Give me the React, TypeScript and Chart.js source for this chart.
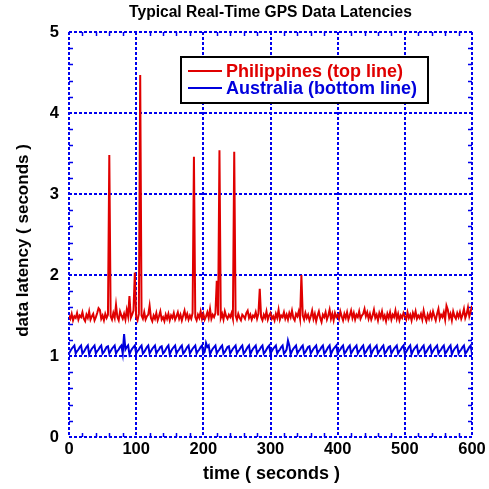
import { useEffect, useRef } from "react";
import { Chart, registerables } from "chart.js";

Chart.register(...registerables);

const FONT = '"Liberation Sans", Arial, Helvetica, sans-serif';

const TITLE = "Typical Real-Time GPS Data Latencies";
const X_TITLE = "time ( seconds )";
const Y_TITLE = "data latency ( seconds )";
const SERIES_NAMES = ["Philippines (top line)", "Australia (bottom line)"];

// sample interval (seconds)
const TIME_STEP = 2;

// Philippines latency, one value every 2 s from t = 0 to 600
const philippines = [
  1.50, 1.46, 1.52, 1.44, 1.49, 1.47, 1.53, 1.45, 1.50, 1.48,
  1.54, 1.46, 1.43, 1.51, 1.47, 1.55, 1.45, 1.49, 1.52, 1.44,
  1.48, 1.53, 1.59, 1.57, 1.46, 1.50, 1.44, 1.52, 1.47, 1.51,
  3.48, 1.49, 1.45, 1.53, 1.47, 1.63, 1.48, 1.44, 1.55, 1.50,
  1.46, 1.52, 1.45, 1.57, 1.49, 1.74, 1.47, 1.51, 1.56, 2.03,
  1.48, 1.44, 1.52, 4.47, 1.50, 1.46, 1.54, 1.45, 1.49, 1.51,
  1.62, 1.47, 1.43, 1.50, 1.46, 1.53, 1.44, 1.49, 1.55, 1.45,
  1.48, 1.43, 1.51, 1.46, 1.52, 1.44, 1.50, 1.47, 1.53, 1.45,
  1.49, 1.54, 1.46, 1.51, 1.44, 1.50, 1.56, 1.47, 1.52, 1.45,
  1.50, 1.46, 1.53, 3.46, 1.48, 1.44, 1.51, 1.47, 1.55, 1.46,
  1.52, 1.45, 1.49, 1.54, 1.47, 1.58, 1.46, 1.51, 1.48, 1.53,
  1.93, 1.50, 3.54, 1.47, 1.52, 1.45, 1.55, 1.49, 1.46, 1.51,
  1.48, 1.53, 1.46, 3.52, 1.50, 1.45, 1.52, 1.47, 1.44, 1.51,
  1.49, 1.46, 1.53, 1.56, 1.47, 1.51, 1.45, 1.50, 1.48, 1.54,
  1.46, 1.52, 1.83, 1.48, 1.44, 1.51, 1.47, 1.55, 1.45, 1.50,
  1.53, 1.46, 1.49, 1.44, 1.52, 1.47, 1.57, 1.45, 1.50, 1.48,
  1.54, 1.46, 1.51, 1.45, 1.53, 1.48, 1.56, 1.47, 1.44, 1.52,
  1.49, 1.55, 1.46, 2.00, 1.50, 1.45, 1.53, 1.47, 1.51, 1.44,
  1.49, 1.56, 1.46, 1.52, 1.43, 1.50, 1.55, 1.47, 1.42, 1.51,
  1.48, 1.54, 1.45, 1.50, 1.57, 1.46, 1.52, 1.44, 1.53, 1.48,
  1.51, 1.46, 1.55, 1.49, 1.44, 1.52, 1.47, 1.54, 1.45, 1.50,
  1.56, 1.47, 1.53, 1.45, 1.51, 1.48, 1.55, 1.46, 1.50, 1.52,
  1.58, 1.49, 1.54, 1.46, 1.52, 1.45, 1.50, 1.57, 1.47, 1.51,
  1.44, 1.53, 1.48, 1.55, 1.46, 1.50, 1.43, 1.52, 1.47, 1.54,
  1.45, 1.51, 1.48, 1.56, 1.46, 1.52, 1.44, 1.50, 1.47, 1.53,
  1.49, 1.45, 1.54, 1.47, 1.51, 1.44, 1.53, 1.48, 1.55, 1.46,
  1.50, 1.47, 1.52, 1.45, 1.56, 1.48, 1.43, 1.51, 1.46, 1.53,
  1.47, 1.55, 1.49, 1.44, 1.52, 1.58, 1.46, 1.51, 1.48, 1.54,
  1.45, 1.62, 1.57, 1.47, 1.52, 1.44, 1.55, 1.49, 1.46, 1.53,
  1.48, 1.54, 1.46, 1.51, 1.58, 1.47, 1.52, 1.60, 1.49, 1.55,
  1.62,
];

// Australia latency, one value every 2 s from t = 0 to 600
const australia = [
  1.03, 1.06, 1.09, 1.11, 1.13, 1.03, 1.06, 1.08, 1.11, 1.13,
  1.03, 1.05, 1.08, 1.11, 1.13, 1.02, 1.06, 1.09, 1.11, 1.13,
  1.03, 1.06, 1.08, 1.11, 1.13, 1.03, 1.05, 1.08, 1.11, 1.12,
  1.03, 1.06, 1.09, 1.11, 1.13, 1.03, 1.06, 1.08, 1.11, 1.13,
  1.03, 1.27, 1.08, 1.11, 1.13, 1.02, 1.06, 1.09, 1.11, 1.13,
  1.03, 1.06, 1.08, 1.11, 1.13, 1.03, 1.05, 1.08, 1.11, 1.13,
  1.03, 1.06, 1.09, 1.11, 1.13, 1.03, 1.06, 1.08, 1.11, 1.12,
  1.03, 1.05, 1.08, 1.11, 1.13, 1.02, 1.06, 1.09, 1.11, 1.13,
  1.03, 1.06, 1.08, 1.11, 1.13, 1.03, 1.05, 1.08, 1.11, 1.13,
  1.03, 1.06, 1.09, 1.11, 1.13, 1.03, 1.06, 1.08, 1.11, 1.13,
  1.03, 1.05, 1.16, 1.11, 1.13, 1.02, 1.06, 1.09, 1.11, 1.13,
  1.03, 1.06, 1.08, 1.11, 1.13, 1.03, 1.05, 1.08, 1.11, 1.12,
  1.03, 1.06, 1.09, 1.11, 1.13, 1.03, 1.06, 1.08, 1.11, 1.13,
  1.03, 1.05, 1.08, 1.11, 1.13, 1.02, 1.06, 1.09, 1.11, 1.13,
  1.03, 1.06, 1.08, 1.11, 1.13, 1.03, 1.05, 1.08, 1.11, 1.13,
  1.03, 1.06, 1.09, 1.11, 1.13, 1.03, 1.06, 1.08, 1.11, 1.13,
  1.03, 1.05, 1.08, 1.19, 1.13, 1.02, 1.06, 1.09, 1.11, 1.13,
  1.03, 1.06, 1.08, 1.11, 1.13, 1.03, 1.05, 1.08, 1.11, 1.12,
  1.03, 1.06, 1.09, 1.11, 1.13, 1.03, 1.06, 1.08, 1.11, 1.13,
  1.03, 1.05, 1.08, 1.11, 1.13, 1.02, 1.06, 1.09, 1.11, 1.13,
  1.03, 1.06, 1.08, 1.11, 1.13, 1.03, 1.05, 1.08, 1.11, 1.13,
  1.03, 1.06, 1.09, 1.11, 1.13, 1.03, 1.06, 1.08, 1.11, 1.13,
  1.03, 1.05, 1.08, 1.11, 1.13, 1.02, 1.06, 1.09, 1.11, 1.13,
  1.03, 1.06, 1.08, 1.11, 1.13, 1.03, 1.05, 1.08, 1.11, 1.12,
  1.03, 1.06, 1.09, 1.11, 1.13, 1.03, 1.06, 1.08, 1.11, 1.13,
  1.03, 1.05, 1.08, 1.11, 1.13, 1.02, 1.06, 1.09, 1.11, 1.13,
  1.03, 1.06, 1.08, 1.11, 1.13, 1.03, 1.05, 1.08, 1.11, 1.13,
  1.03, 1.06, 1.09, 1.11, 1.13, 1.03, 1.06, 1.08, 1.11, 1.13,
  1.03, 1.05, 1.08, 1.11, 1.13, 1.02, 1.06, 1.09, 1.11, 1.13,
  1.03, 1.06, 1.08, 1.11, 1.13, 1.03, 1.05, 1.08, 1.11, 1.13,
  1.03,
];

const X_MIN = 0;
const X_MAX = 600;
const X_STEP = 100;
const X_MINOR = 20;
const Y_MIN = 0;
const Y_MAX = 5;
const Y_STEP = 1;
const Y_MINOR = 0.2;

const RED = "#e00000";
const BLUE = "#0000dd";
const GRID_BLUE = "#0000ee";

const toPoints = (vals: number[]) =>
  vals.map((v, i) => ({ x: i * TIME_STEP, y: v }));

const decorPlugin = {
  id: "decor",
  beforeDatasetsDraw(chart: any) {
    const { ctx, chartArea, scales } = chart;
    const xs = scales.x;
    const ys = scales.y;
    ctx.save();
    // minor ticks, inward on all four sides
    ctx.strokeStyle = GRID_BLUE;
    ctx.lineWidth = 1.5;
    ctx.beginPath();
    for (let v = X_MIN; v <= X_MAX + 1e-6; v += X_MINOR) {
      if (Math.abs(v % X_STEP) < 1e-6) continue;
      const px = Math.round(xs.getPixelForValue(v)) + 0.5;
      ctx.moveTo(px, chartArea.bottom);
      ctx.lineTo(px, chartArea.bottom - 4);
      ctx.moveTo(px, chartArea.top);
      ctx.lineTo(px, chartArea.top + 4);
    }
    for (let k = 1; k < Math.round((Y_MAX - Y_MIN) / Y_MINOR); k++) {
      const v = Y_MIN + k * Y_MINOR;
      if (k % Math.round(Y_STEP / Y_MINOR) === 0) continue;
      const py = Math.round(ys.getPixelForValue(v)) + 0.5;
      ctx.moveTo(chartArea.left, py);
      ctx.lineTo(chartArea.left + 4, py);
      ctx.moveTo(chartArea.right, py);
      ctx.lineTo(chartArea.right - 4, py);
    }
    ctx.stroke();
    ctx.restore();
  },
  afterDraw(chart: any) {
    const { ctx, chartArea } = chart;
    const cx = (chartArea.left + chartArea.right) / 2;
    const cy = (chartArea.top + chartArea.bottom) / 2;
    ctx.save();
    ctx.fillStyle = "#000";
    ctx.textAlign = "center";
    ctx.textBaseline = "middle";
    ctx.font = `bold 15.6px ${FONT}`;
    ctx.fillText(TITLE, cx, 13);
    ctx.font = `bold 18px ${FONT}`;
    ctx.fillText(X_TITLE, cx + 1, 474);
    ctx.save();
    ctx.translate(23, cy + 6);
    ctx.rotate(-Math.PI / 2);
    ctx.font = `bold 17px ${FONT}`;
    ctx.fillText(Y_TITLE, 0, 0);
    ctx.restore();

    // legend box
    const lx = 181, ly = 57, lw = 247, lh = 46;
    ctx.fillStyle = "#fff";
    ctx.fillRect(lx, ly, lw, lh);
    ctx.strokeStyle = "#000";
    ctx.lineWidth = 2;
    ctx.strokeRect(lx, ly, lw, lh);
    const colors = [RED, BLUE];
    const rows = [71, 88];
    ctx.font = `bold 18px ${FONT}`;
    ctx.textAlign = "left";
    for (let i = 0; i < 2; i++) {
      ctx.strokeStyle = colors[i];
      ctx.lineWidth = 2;
      ctx.beginPath();
      ctx.moveTo(188, rows[i]);
      ctx.lineTo(222, rows[i]);
      ctx.stroke();
      ctx.fillStyle = colors[i];
      ctx.fillText(SERIES_NAMES[i], 226, rows[i] + 1);
    }
    ctx.restore();
  },
};

export default function App() {
  const ref = useRef<HTMLCanvasElement | null>(null);
  useEffect(() => {
    if (!ref.current) return;
    const chart = new Chart(ref.current, {
      type: "line",
      data: {
        datasets: [
          {
            label: SERIES_NAMES[0],
            data: toPoints(philippines),
            borderColor: RED,
            borderWidth: 2,
            pointRadius: 0,
            tension: 0,
          },
          {
            label: SERIES_NAMES[1],
            data: toPoints(australia),
            borderColor: BLUE,
            borderWidth: 2,
            pointRadius: 0,
            tension: 0,
          },
        ],
      },
      options: {
        animation: false,
        responsive: false,
        events: [],
        layout: { padding: { top: 32, right: 17, left: 0, bottom: 0 } },
        plugins: {
          legend: { display: false },
          title: { display: false },
          tooltip: { enabled: false },
        },
        scales: {
          x: {
            type: "linear",
            min: X_MIN,
            max: X_MAX,
            afterFit: (s: any) => {
              s.height = 52;
            },
            ticks: {
              stepSize: X_STEP,
              color: "#000",
              font: { family: FONT, size: 16.5, weight: "bold" },
              padding: 3,
              maxRotation: 0,
            },
            grid: {
              color: GRID_BLUE,
              lineWidth: 2,
              drawTicks: false,
            },
            border: { display: false, dash: [3, 2] },
          },
          y: {
            type: "linear",
            min: Y_MIN,
            max: Y_MAX,
            afterFit: (s: any) => {
              s.width = 69;
            },
            ticks: {
              stepSize: Y_STEP,
              color: "#000",
              font: { family: FONT, size: 16.5, weight: "bold" },
              padding: 10,
            },
            grid: {
              color: GRID_BLUE,
              lineWidth: 2,
              drawTicks: false,
            },
            border: { display: false, dash: [3, 2] },
          },
        },
      },
      plugins: [decorPlugin],
    });
    return () => chart.destroy();
  }, []);
  return (
    <div style={{ position: "fixed", left: 0, top: 0, width: 489, height: 489, background: "#fff" }}>
      <canvas ref={ref} width={489} height={489} style={{ display: "block" }} />
    </div>
  );
}
